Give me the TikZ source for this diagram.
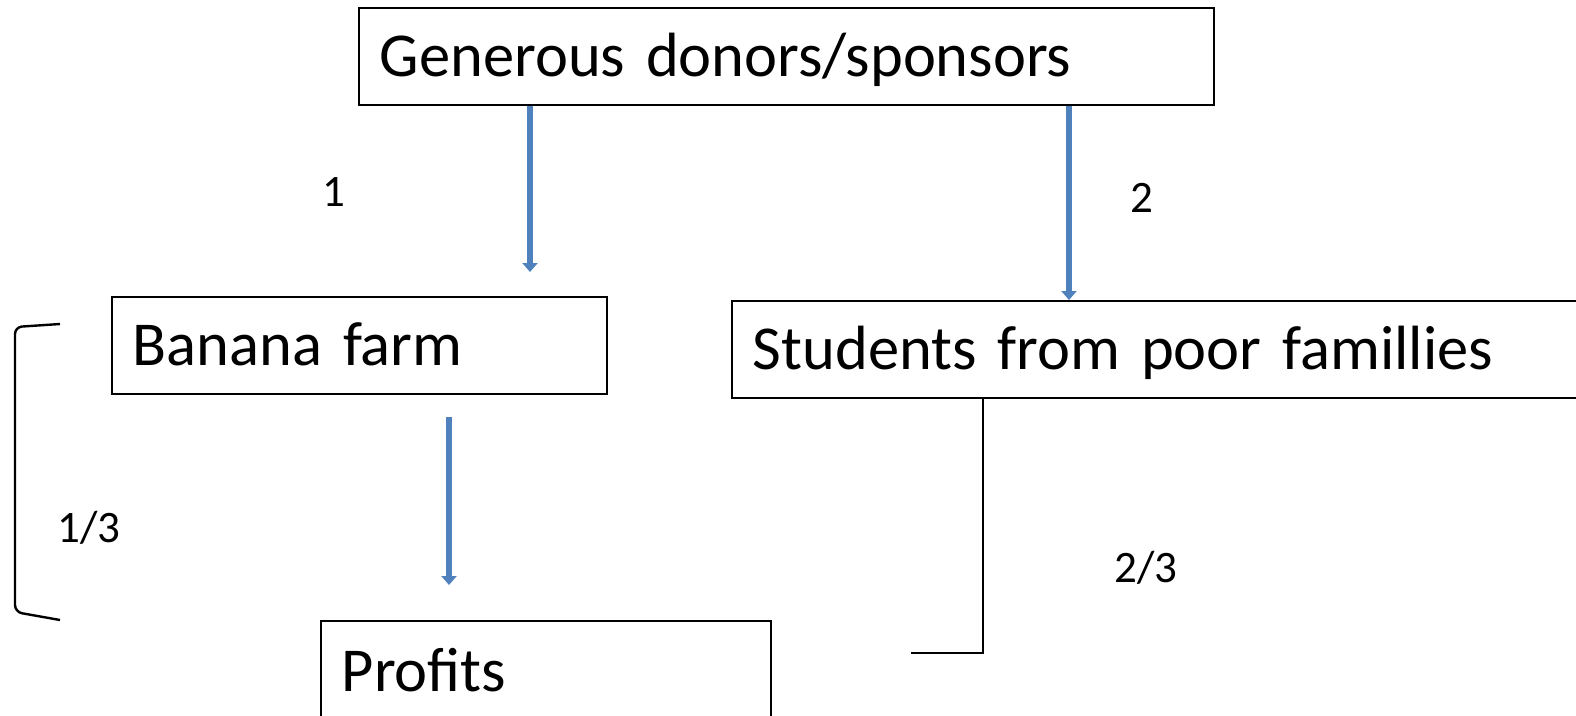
\documentclass[tikz,border=0pt]{standalone}
\usepackage{fontspec}
\setmainfont{Carlito}
\usetikzlibrary{arrows.meta}

\definecolor{flowblue}{HTML}{4F81BD}
\newcommand{\bigtxt}{\fontsize{62.5}{66}\selectfont}
\newcommand{\smalltxt}{\fontsize{45}{48}\selectfont}

\begin{document}
\begin{tikzpicture}[x=1pt, y=-1pt,
    box/.style = {draw, line width=1.6pt, anchor=north west, minimum height=97pt,
                  inner xsep=21pt, inner ysep=0pt, text width=#1, text height=56pt, text depth=15pt,
                  align=left, font=\bigtxt},
    flow/.style = {draw=flowblue, line width=6pt, -{Triangle[width=15pt,length=9pt]}},
    num/.style = {font=\smalltxt},
    edge/.style = {line width=2.4pt}]
\useasboundingbox (0,0) rectangle (1576,715);
\begin{scope}
\clip (0,0) rectangle (1576,715);
% boxes
\node[box=813pt] (donors) at (358,7) {Generous donors/sponsors};
\node[box=453pt] (banana) at (111,296) {Banana farm};
\node[box=860pt] (students) at (731,300) {Students from poor famillies};
\node[box=408pt, minimum height=130pt] (profits) at (320,620) {\raisebox{15pt}{Profits}};
% labels
\node[num] (n1) at (334,192) {1};
\node[num] (n2) at (1142,198) {2};
\node[num] (n13) at (89,528) {1/3};
\node[num] (n23) at (1146,568) {2/3};
% arrows
\coordinate (t1) at (530,272);
\coordinate (s2) at (1069,0);
\coordinate (s3) at (449,417);
\coordinate (t3) at (449,585);
\draw[flow] (donors.south -| t1) -- (t1);
\draw[flow] (donors.south -| s2) -- (students.north -| s2);
\draw[flow] (s3) -- (t3);
% bracket and share line
\draw[edge, rounded corners=7pt] (60,324) -- (15,327) -- (15,612) -- (60,620);
\coordinate (s4) at (983,0);
\coordinate (t4) at (911,653);
\draw[edge] (students.south -| s4) |- (t4);
\end{scope}
\end{tikzpicture}
\end{document}
